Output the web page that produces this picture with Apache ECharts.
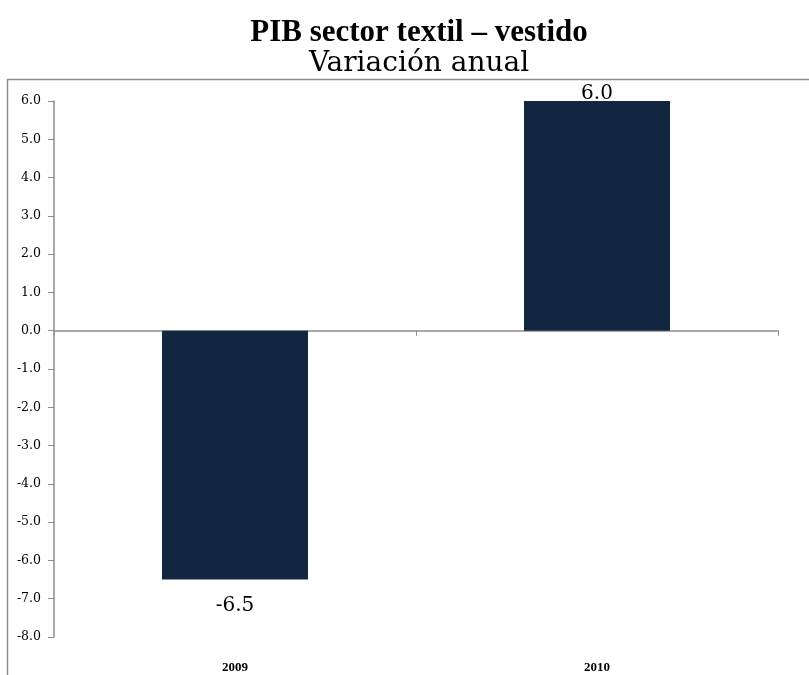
<!DOCTYPE html>
<html>
<head>
<meta charset="utf-8">
<script src="https://cdn.jsdelivr.net/npm/echarts@6/dist/echarts.min.js"></script>
<style>
  html, body { margin: 0; padding: 0; background: #fff; }
  #chart { width: 809px; height: 675px; }
</style>
</head>
<body>
<div id="chart"></div>
<script>
// datos del gráfico
var years = ['2009', '2010'];
var variacion = [-6.5, 6.0];

var chart = echarts.init(document.getElementById('chart'));
var option = {
    animation: false,
    title: [
        {
            text: 'PIB sector textil – vestido',
            left: 414,
            textAlign: 'center',
            top: 12,
            textStyle: { fontFamily: 'Liberation Serif', fontWeight: 'bold', fontSize: 31, color: '#000' }
        },
        {
            text: 'Variación anual',
            left: 414,
            textAlign: 'center',
            top: 45,
            textStyle: { fontFamily: 'DejaVu Serif', fontWeight: 'normal', fontSize: 28, color: '#000' }
        }
    ],
    graphic: [
        {
            type: 'rect',
            shape: { x: 7.5, y: 79.5, width: 820, height: 640 },
            style: { fill: 'none', stroke: '#8c8c8c', lineWidth: 1.5 },
            silent: true
        }
    ],
    grid: { left: 54, right: 31, top: 101, bottom: 38 },
    xAxis: [
        {
            type: 'category',
            data: years,
            axisLine: { onZero: true, lineStyle: { color: '#8c8c8c', width: 1.5 } },
            axisTick: { show: true, inside: false, length: 5, lineStyle: { color: '#8c8c8c' } },
            axisLabel: { show: false }
        },
        {
            type: 'category',
            data: years,
            position: 'bottom',
            axisLine: { show: false },
            axisTick: { show: false },
            axisLabel: {
                margin: 24,
                fontFamily: 'Liberation Serif',
                fontWeight: 'bold',
                fontSize: 13,
                color: '#000'
            }
        }
    ],
    yAxis: {
        type: 'value',
        min: -8,
        max: 6,
        interval: 1,
        axisLine: { show: true, lineStyle: { color: '#8c8c8c', width: 1.5 } },
        axisTick: { show: true, length: 6, lineStyle: { color: '#8c8c8c' } },
        splitLine: { show: false },
        axisLabel: {
            margin: 13,
            fontFamily: 'DejaVu Serif',
            fontSize: 12.5,
            color: '#000',
            formatter: function (v) { return v.toFixed(1); }
        }
    },
    series: [
        {
            type: 'bar',
            barWidth: 146,
            itemStyle: { color: '#12263f' },
            label: {
                show: true,
                fontFamily: 'DejaVu Serif',
                fontSize: 20,
                color: '#000',
                formatter: function (p) { return p.value.toFixed(1); }
            },
            data: variacion.map(function (v) {
                return {
                    value: v,
                    label: v < 0 ? { position: 'bottom', distance: 16 } : { position: 'top', distance: -3 }
                };
            })
        }
    ]
};
chart.setOption(option);
</script>
</body>
</html>
